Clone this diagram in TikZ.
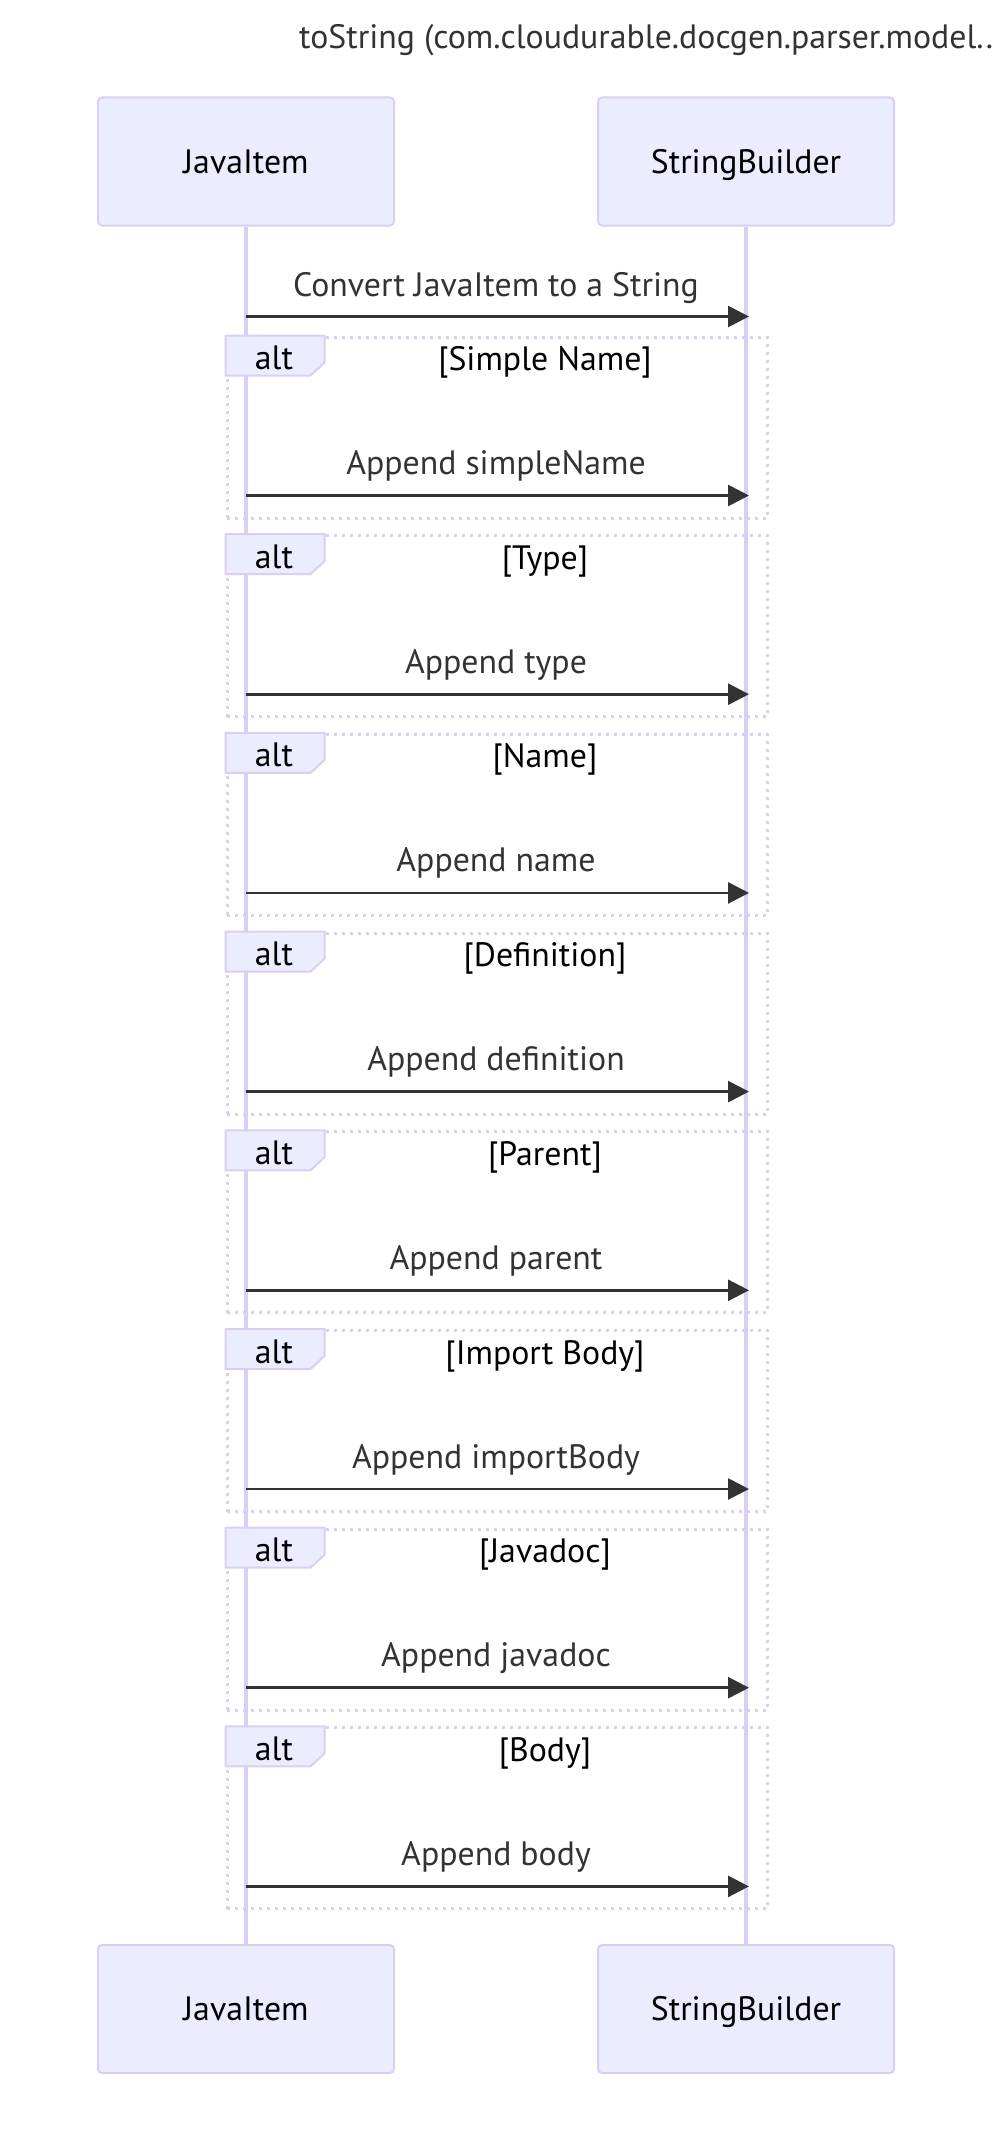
\documentclass[tikz,border=0pt]{standalone}
\usepackage{fontspec}
\setmainfont{PT Sans}
\usetikzlibrary{arrows.meta,calc}
\definecolor{actorfill}{HTML}{ECECFF}
\definecolor{actorline}{HTML}{DACEF3}
\definecolor{signal}{HTML}{333333}

\begin{document}
\begin{tikzpicture}[x=1pt,y=-1pt,
  txt/.style={font=\fontsize{33.8}{40}\selectfont, inner sep=0pt},
  actor/.style={txt, draw=actorline, line width=2pt, fill=actorfill, rounded corners=4pt,
    minimum width=296pt, minimum height=128pt, text=black, text height=28pt, text depth=5pt},
  lifeline/.style={draw=actorline, line width=4pt},
  msg/.style={draw=signal, line width=2.8pt, -{Triangle[length=21pt,width=21pt]}, shorten >=-3pt},
  msgtext/.style={txt, text=signal, anchor=base},
  altframe/.style={draw=actorline, line width=3pt, dash pattern=on 3pt off 5pt,
    minimum width=540.5pt, minimum height=181pt, inner sep=0pt, anchor=north west},
  labelbox/.style={draw=actorline, line width=2pt, fill=actorfill},
  labeltext/.style={txt, text=black, anchor=base},
]
\useasboundingbox (0,0) rectangle (1008,2130);

% title
\node[txt, text=signal, anchor=base west] (title) at (299,49) {toString (com.cloudurable.docgen.parser.model..};

% participants, top and bottom
\node[actor] (jtop) at (246,161.5) {JavaItem};
\node[actor] (stop) at (746,161.5) {StringBuilder};
\node[actor] (jbot) at (246,2009) {JavaItem};
\node[actor] (sbot) at (746,2009) {StringBuilder};

% alt fragment frames
\foreach \i in {0,...,7}{
  \pgfmathsetmacro{\t}{335.5+198.7*\i}
  \node[altframe] (alt\i) at (225.5,\t) {};
}

% lifelines
\draw[lifeline] (jtop.south) -- (jbot.north);
\draw[lifeline] (stop.south) -- (sbot.north);

% alt labels and conditions
\foreach \i/\cond in {0/Simple Name,1/Type,2/Name,3/Definition,4/Parent,5/Import Body,6/Javadoc,7/Body}{
  \draw[labelbox] (alt\i.north west) -- ++(99,0) -- ++(0,27) -- ++(-14,13) -- ++(-85,0) -- cycle;
  \node[labeltext] (lab\i) at ($(alt\i.north west)+(48.5,34)$) {alt};
  \node[labeltext] (cond\i) at ($(alt\i.north west)+(319.5,35)$) {[\cond]};
}

% messages
\coordinate (m0a) at (246,316.5);
\coordinate (m0b) at (746,316.5);
\draw[msg] (m0a) -- (m0b);
\node[msgtext] (m0t) at (496,296) {Convert JavaItem to a String};

\foreach \i/\what in {0/simpleName,1/type,2/name,3/definition,4/parent,5/importBody,6/javadoc,7/body}{
  \pgfmathsetmacro{\t}{335.5+198.7*\i}
  \coordinate (a\i) at (246,\t+160);
  \coordinate (b\i) at (746,\t+160);
  \draw[msg] (a\i) -- (b\i);
  \node[msgtext] (t\i) at (496,\t+139) {Append \what};
}
\end{tikzpicture}
\end{document}
